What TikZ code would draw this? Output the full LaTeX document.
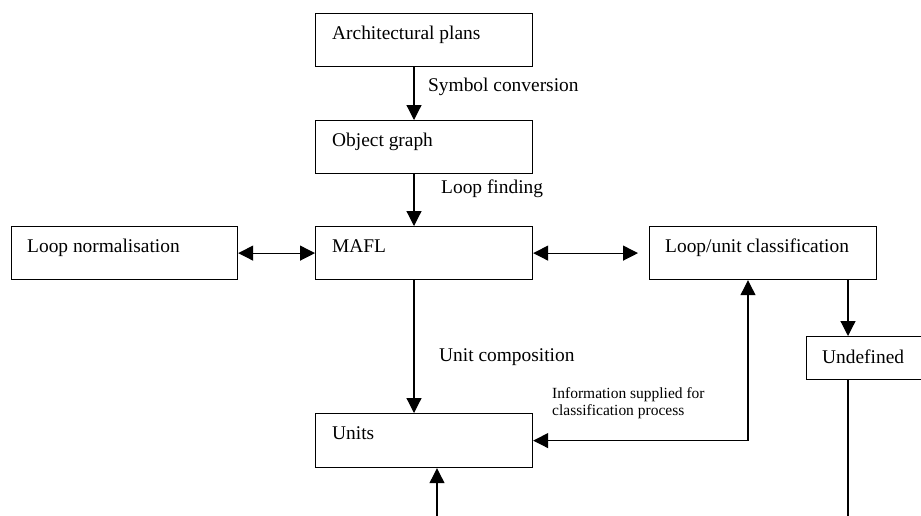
\documentclass[tikz,border=0pt]{standalone}
\usepackage{fontspec}
\setmainfont{Liberation Serif}
\usetikzlibrary{arrows.meta,calc}
\begin{document}
\begin{tikzpicture}[x=1pt,y=-1pt,
  stage/.style={draw, line width=1.2pt, rectangle, inner sep=0pt, anchor=north west},
  boxtext/.style={anchor=base west, inner sep=0pt, font=\fontsize{19.4}{23}\selectfont},
  steplabel/.style={anchor=base west, inner sep=0pt, font=\fontsize{19.4}{23}\selectfont},
  smalllabel/.style={anchor=base west, inner sep=0pt, align=left, font=\fontsize{15.5}{17}\selectfont},
  tip/.tip={Triangle[length=15pt,width=15pt]},
  flow/.style={line width=1.2pt, -tip},
  twoway/.style={line width=1.2pt, tip-tip}]
\clip (0,0) rectangle (921,515);
\fill[white] (0,0) rectangle (921,515);

% boxes
\node[stage, minimum width=217pt, minimum height=53pt] (arch)  at (315,13)  {};
\node[stage, minimum width=217pt, minimum height=53pt] (obj)   at (315,120) {};
\node[stage, minimum width=217pt, minimum height=53pt] (mafl)  at (315,226) {};
\node[stage, minimum width=226pt, minimum height=53pt] (norm)  at (11,226)  {};
\node[stage, minimum width=227pt, minimum height=53pt] (luc)   at (649,226) {};
\node[stage, minimum width=217pt, minimum height=54pt] (units) at (315,413) {};
\node[stage, minimum width=130pt, minimum height=43pt] (undef) at (806,336) {};

% box texts
\node[boxtext] at ([shift={(17,26)}]arch.north west)  {Architectural plans};
\node[boxtext] at ([shift={(17,26)}]obj.north west)   {Object graph};
\node[boxtext] at ([shift={(17,26)}]mafl.north west)  {MAFL};
\node[boxtext] at ([shift={(16,26)}]norm.north west)  {Loop normalisation};
\node[boxtext] at ([shift={(16,26)}]luc.north west)   {Loop/unit classification};
\node[boxtext] at ([shift={(16,27)}]undef.north west) {Undefined};
\node[boxtext] at ([shift={(17,26)}]units.north west) {Units};

% guide columns for the connectors
\coordinate (colA) at (414,0);
\coordinate (colB) at (748,0);
\coordinate (colC) at (848,0);
\coordinate (colD) at (437,0);
\coordinate (bottomA) at (437,530);
\coordinate (bottomC) at (848,530);

% main flow
\draw[flow] (arch.south -| colA) -- (obj.north -| colA);
\draw[flow] (obj.south -| colA) -- (mafl.north -| colA);
\draw[flow] (mafl.south -| colA) -- (units.north -| colA);
\draw[twoway] (norm.east) -- (mafl.west);
\draw[twoway, shorten >=11pt] (mafl.east) -- (luc.west);
\draw[flow] (luc.south -| colC) -- (undef.north -| colC);
\draw[twoway] (units.east) -| (luc.south -| colB);
\draw[flow] (bottomA) -- (units.south -| colD);
\draw[line width=1.2pt] (undef.south -| colC) -- (bottomC);

% connector labels
\node[steplabel] at (428,91)  {Symbol conversion};
\node[steplabel] at (441,193) {Loop finding};
\node[steplabel] at (439,361) {Unit composition};
\node[smalllabel] at (552,415) {Information supplied for\\classification process};
\end{tikzpicture}
\end{document}
